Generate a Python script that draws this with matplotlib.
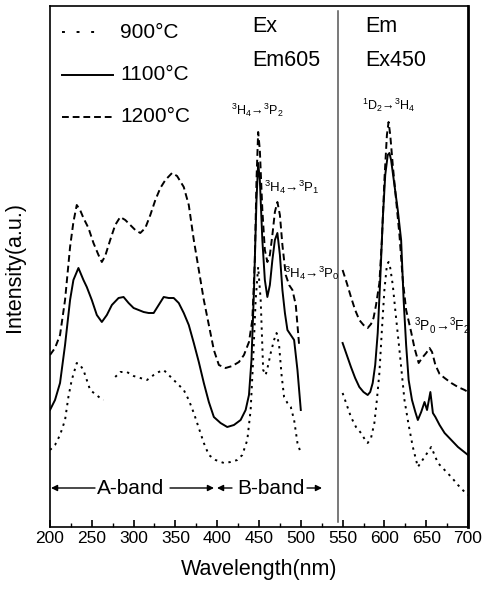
import numpy as np
import matplotlib
matplotlib.use("Agg")
import matplotlib.pyplot as plt

plt.rcParams['font.family'] = ['Liberation Sans', 'DejaVu Sans']
plt.rcParams['mathtext.fontset'] = 'custom'
plt.rcParams['mathtext.rm'] = 'Liberation Sans'
plt.rcParams['mathtext.it'] = 'Liberation Sans'

# ---------------- data (arbitrary intensity units) ----------------
# Excitation spectra (Em 605 nm)
ex_wl_1200 = [200, 206, 212, 218, 224, 228, 232, 236, 240, 246, 252, 258, 262, 266, 272, 278, 284, 290,
              296, 302, 308, 314, 320, 326, 332, 338, 346, 352, 360, 366, 372, 378, 384, 390, 396, 402,
              410, 418, 426, 432, 438, 442, 445, 447, 449, 451, 454, 457, 460, 463, 466, 469, 472, 475,
              478, 482, 486, 490, 494, 498]
ex_int_1200 = [172, 179, 192, 227, 280, 305, 322, 317, 309, 299, 284, 272, 265, 271, 287, 302, 310, 307,
               302, 297, 294, 299, 312, 327, 339, 347, 354, 351, 340, 322, 287, 257, 227, 202, 177, 162,
               159, 161, 165, 172, 185, 207, 267, 347, 395, 377, 317, 277, 265, 272, 292, 315, 325, 312,
               282, 252, 242, 237, 222, 182]

ex_wl_1100 = [200, 206, 212, 218, 224, 228, 234, 240, 244, 250, 256, 262, 268, 274, 282, 288, 294, 300,
              306, 312, 318, 324, 330, 336, 342, 348, 354, 360, 366, 372, 378, 384, 390, 396, 404, 412,
              420, 428, 434, 438, 441, 444, 447, 449, 451, 454, 457, 460, 463, 466, 469, 472, 475, 478,
              481, 484, 488, 492, 496, 500]
ex_int_1100 = [117, 127, 144, 182, 227, 247, 259, 247, 240, 227, 212, 205, 212, 222, 229, 230, 224, 219,
               217, 215, 214, 214, 222, 230, 229, 229, 224, 214, 202, 184, 165, 144, 125, 110, 104, 100,
               102, 107, 117, 132, 167, 237, 327, 364, 347, 287, 247, 230, 242, 267, 287, 294, 272, 237,
               214, 197, 192, 187, 157, 117]

ex_wl_900 = [200, 206, 212, 218, 222, 226, 232, 236, 240, 244, 248, 254, 260, 264, 271,
             278, 284, 292, 300, 308, 316, 324, 330, 336, 342, 348, 354, 360, 366, 372, 378, 384, 390,
             398, 408, 416, 424, 430, 436, 440, 443, 446, 449, 452, 455, 458, 461, 464, 468, 471, 474,
             477, 480, 484, 488, 492, 496, 500]
ex_int_900 = [77, 82, 92, 107, 130, 147, 164, 162, 157, 147, 137, 133, 129, 127, np.nan,
              150, 155, 155, 151, 149, 147, 152, 155, 157, 152, 147, 142, 137, 127, 114, 99, 84, 72,
              67, 64, 65, 67, 72, 87, 117, 167, 227, 260, 227, 157, 152, 162, 174, 187, 194, 182,
              152, 130, 124, 120, 107, 84, 74]

# Emission spectra (Ex 450 nm)
em_wl_1200 = [550, 555, 560, 565, 570, 575, 580, 584, 587, 590, 594, 597, 600, 603, 605, 607, 610, 614,
              618, 622, 626, 632, 636, 641, 645, 650, 654, 657, 661, 666, 672, 680, 688, 696, 700]
em_int_1200 = [257, 244, 230, 217, 207, 202, 199, 203, 209, 222, 244, 287, 347, 392, 405, 392, 362, 327,
               292, 247, 217, 195, 179, 164, 169, 174, 179, 175, 162, 153, 149, 144, 140, 137, 135]

em_wl_1100 = [550, 555, 560, 565, 570, 575, 580, 583, 586, 589, 592, 595, 598, 601, 604, 606, 608, 612,
              616, 620, 623, 626, 629, 633, 637, 640, 644, 648, 651, 655, 658, 661, 666, 672, 680, 688,
              694, 700]
em_int_1100 = [184, 172, 160, 149, 140, 135, 132, 135, 144, 162, 194, 247, 307, 352, 372, 374, 367, 342,
               317, 287, 227, 182, 147, 127, 115, 107, 115, 125, 117, 135, 114, 110, 102, 94, 87, 80,
               76, 72]

em_wl_900 = [550, 555, 560, 566, 572, 577, 580, 584, 588, 591, 594, 597, 600, 603, 605, 607, 610, 613,
             618, 624, 629, 634, 640, 644, 648, 652, 656, 660, 664, 672, 680, 688, 696, 700]
em_int_900 = [134, 122, 110, 100, 94, 87, 84, 89, 104, 127, 154, 197, 237, 262, 265, 259, 242, 217,
              177, 127, 102, 80, 60, 65, 70, 75, 80, 72, 64, 57, 50, 42, 35, 32]

series_labels = ['900°C', '1100°C', '1200°C']
x_ticks = [200, 250, 300, 350, 400, 450, 500, 550, 600, 650, 700]

# ---------------- figure ----------------
W, H = 482, 589
fig = plt.figure(figsize=(W / 100, H / 100), dpi=100)
L, R, T, B = 50, 468, 6, 527
ax = fig.add_axes([L / W, (H - B) / H, (R - L) / W, (B - T) / H])

sty = {
    '900': dict(color='black', lw=1.4, ls=(0, (1.2, 2.4))),
    '1100': dict(color='black', lw=1.4, ls='-'),
    '1200': dict(color='black', lw=1.4, ls=(0, (3.5, 2))),
}
ax.plot(ex_wl_900, ex_int_900, **sty['900'])
ax.plot(ex_wl_1100, ex_int_1100, **sty['1100'])
ax.plot(ex_wl_1200, ex_int_1200, **sty['1200'])
ax.plot(em_wl_900, em_int_900, **sty['900'])
ax.plot(em_wl_1100, em_int_1100, **sty['1100'])
ax.plot(em_wl_1200, em_int_1200, **sty['1200'])

ax.set_xlim(200, 700)
ax.set_ylim(0, B - T)
ax.set_xticks(x_ticks)
ax.set_xticks(np.arange(225, 700, 50), minor=True)
ax.set_yticks([])
ax.tick_params(axis='x', which='major', direction='in', length=5, width=1.2, labelsize=12.5, pad=3)
ax.tick_params(axis='x', which='minor', direction='in', length=3, width=1.0)
for s in ax.spines.values():
    s.set_linewidth(1.2)
ax.spines['right'].set_linewidth(2.0)
ax.set_xlabel('Wavelength(nm)', fontsize=15.5, labelpad=9)
ax.set_ylabel('Intensity(a.u.)', fontsize=15.5, labelpad=18)

# divider between excitation and emission
ax.axvline(544, ymin=0.01, ymax=0.99, color='#555555', lw=1.1)


def px(x, y):
    return ((x - L) / (R - L), (B - y) / (B - T))


# legend drawn manually
leg_y = [32, 75, 117]
leg_styles = [sty['900'], sty['1100'], sty['1200']]
leg_ends = [95, 113, 113]
for yy, lab, st, xe in zip(leg_y, series_labels, leg_styles, leg_ends):
    x0, y0 = px(62, yy)
    x1, _ = px(xe, yy)
    st2 = dict(st)
    if lab == '900°C':
        st2['ls'] = (0, (1.5, 6))
    ax.plot([x0, x1], [y0, y0], transform=ax.transAxes, **st2)
    tx, ty = px(120, yy)
    ax.text(tx, ty, lab, transform=ax.transAxes, fontsize=15, va='center', ha='left')

big = 15.5
for (x, y, s) in [(252, 27, 'Ex'), (252, 61, 'Em605'), (365, 27, 'Em'), (365, 61, 'Ex450')]:
    tx, ty = px(x, y)
    ax.text(tx, ty, s, transform=ax.transAxes, fontsize=big, va='center', ha='left')

trans = [
    (231, 110, r'$^3$H$_4$→$^3$P$_2$', 9),
    (264, 187, r'$^3$H$_4$→$^3$P$_1$', 9.5),
    (284, 273, r'$^3$H$_4$→$^3$P$_0$', 9.5),
    (362, 105, r'$^1$D$_2$→$^3$H$_4$', 9),
    (414, 325, r'$^3$P$_0$→$^3$F$_2$', 10),
]
for (x, y, s, fs) in trans:
    tx, ty = px(x, y)
    ax.text(tx, ty, s, transform=ax.transAxes, fontsize=fs, va='center', ha='left')

# band arrows
ay = 488
arr = dict(arrowstyle='-|>', color='black', lw=1.0, mutation_scale=9, shrinkA=0, shrinkB=0)
ax.annotate('', xy=px(51, ay), xytext=px(95, ay), xycoords='axes fraction',
            textcoords='axes fraction', arrowprops=arr)
ax.annotate('', xy=px(214, ay), xytext=px(170, ay), xycoords='axes fraction',
            textcoords='axes fraction', arrowprops=arr)
ax.annotate('', xy=px(217, ay), xytext=px(232, ay), xycoords='axes fraction',
            textcoords='axes fraction', arrowprops=arr)
ax.annotate('', xy=px(322, ay), xytext=px(307, ay), xycoords='axes fraction',
            textcoords='axes fraction', arrowprops=arr)
tx, ty = px(131, ay)
ax.text(tx, ty, 'A-band', transform=ax.transAxes, fontsize=15, va='center', ha='center')
tx, ty = px(271, ay)
ax.text(tx, ty, 'B-band', transform=ax.transAxes, fontsize=15, va='center', ha='center')

fig.savefig('out.png', dpi=100)
